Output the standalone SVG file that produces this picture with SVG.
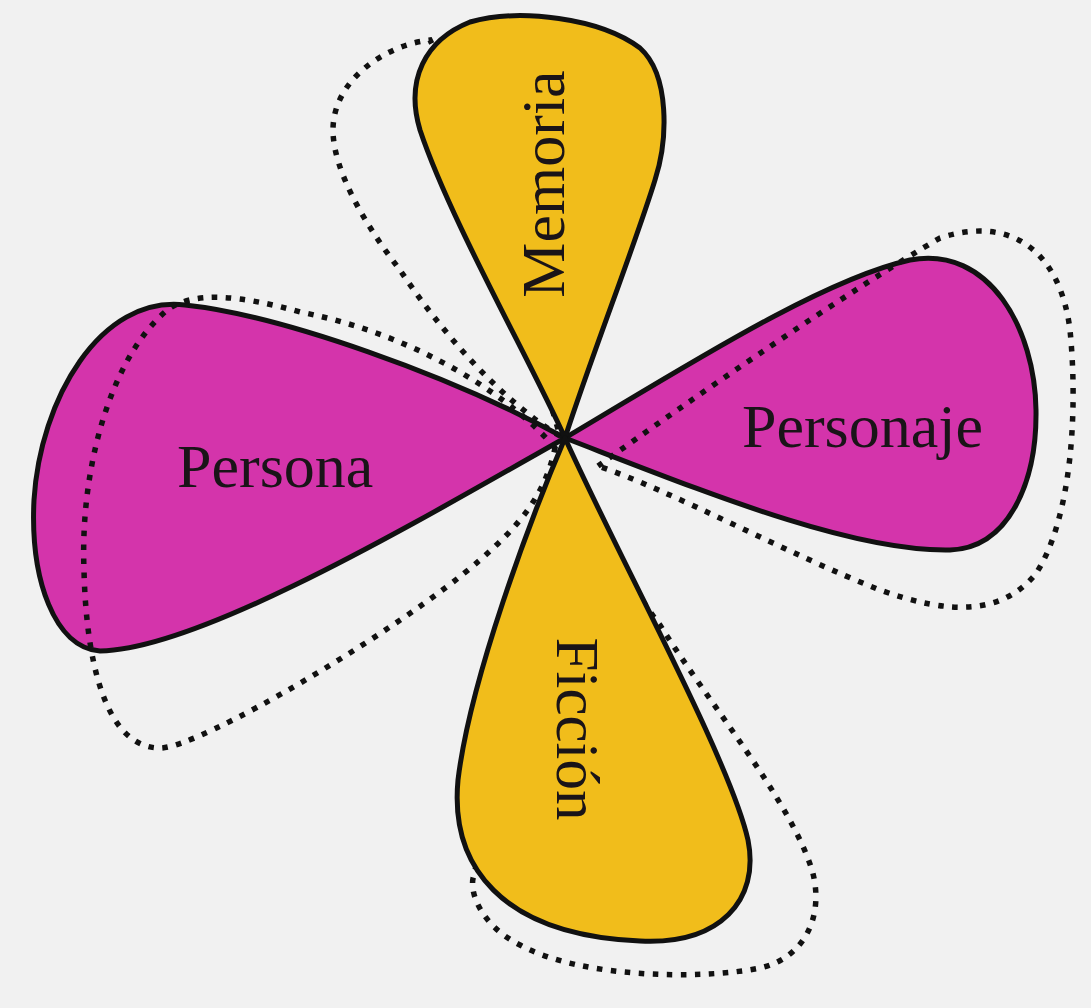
<svg xmlns="http://www.w3.org/2000/svg" width="1091" height="1008" viewBox="0 0 1091 1008">
  <style>
    .petal { stroke: #111; stroke-width: 5; stroke-linejoin: round; }
    .magenta { fill: #d434ab; }
    .yellow { fill: #f1bd1b; }
    .dotted { fill: none; stroke: #111; stroke-width: 5.5; stroke-dasharray: 5.5 8.5; }
    .label { font-family: "Liberation Serif", "Times New Roman", serif; font-size: 62px; fill: #1a1418; }
  </style>
  <rect x="0" y="0" width="1091" height="1008" fill="#f1f1f1"/>

  <g id="persona">
    <path class="petal magenta" d="M565,438 C450,375 280,315 185,305 C100,295 40,400 34,500 C30,580 55,648 100,651 C200,650 420,520 565,438 Z"/>
    <text class="label" x="177" y="487">Persona</text>
  </g>

  <g id="personaje">
    <path class="petal magenta" d="M565,438 C680,370 820,280 910,260 C990,245 1035,330 1036,410 C1037,480 1010,548 950,550 C850,552 700,490 565,438 Z"/>
    <text class="label" x="983" y="447" text-anchor="end">Personaje</text>
  </g>

  <g id="outlines">
    <path class="dotted" d="M560,436 C500,400 440,330 400,270 C365,225 333,170 333,130 C333,80 385,45 430,40 C470,120 520,300 560,436 Z"/>
    <path class="dotted" d="M555,448 C515,400 420,335 300,312 C240,295 190,290 165,312 C110,360 80,470 84,570 C86,660 105,748 160,748 C200,748 400,630 480,560 C520,525 545,495 555,448 Z"/>
    <path class="dotted" d="M598,466 C690,400 850,290 940,238 C1010,215 1060,250 1070,330 C1078,410 1072,520 1035,575 C1000,615 950,615 880,590 C790,555 670,490 598,466 Z"/>
    <path class="dotted" d="M566,452 C590,510 625,580 660,625 C710,705 790,800 812,870 C825,915 805,958 760,968 C700,980 580,978 520,945 C480,925 468,890 474,875 C500,760 520,600 566,452 Z"/>
  </g>

  <g id="memoria">
    <path class="petal yellow" d="M565,438 C530,360 450,220 420,130 C405,80 425,40 470,22 C520,8 600,18 640,48 C670,75 668,140 655,180 C635,245 590,360 565,438 Z"/>
    <text class="label" transform="translate(564,184) rotate(-90)" text-anchor="middle">Memoria</text>
  </g>

  <g id="ficcion">
    <path class="petal yellow" d="M565,438 C530,520 470,680 458,780 C450,865 500,935 640,941 C720,945 760,900 748,840 C730,760 620,560 565,438 Z"/>
    <text class="label" style="font-size:61px" transform="translate(557,729) rotate(90)" text-anchor="middle">Ficción</text>
  </g>
</svg>
